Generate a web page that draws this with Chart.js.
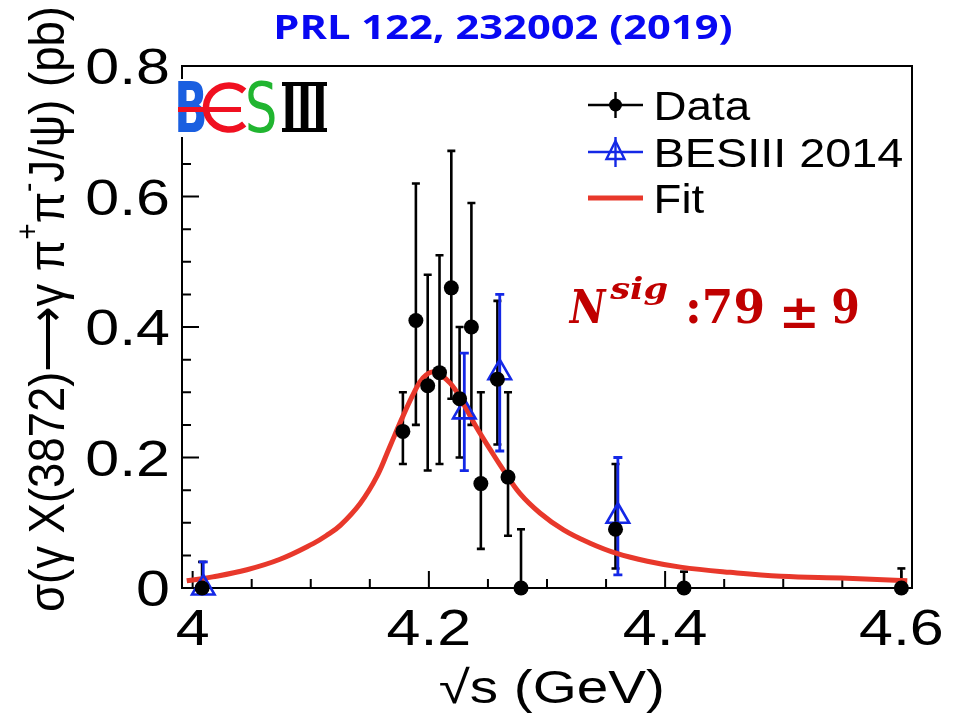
<!DOCTYPE html>
<html>
<head>
<meta charset="utf-8">
<script src="https://cdn.jsdelivr.net/npm/chart.js@4.4.0/dist/chart.umd.min.js"></script>
<style>
  html, body { margin: 0; padding: 0; background: #ffffff; }
  canvas { display: block; }
</style>
</head>
<body>
<canvas id="xsec" width="962" height="718"></canvas>
<script>
// sigma(e+e- -> gamma X(3872)) x B(X(3872) -> pi+ pi- J/psi), in pb, versus sqrt(s) in GeV
const dataX     = [4.008, 4.178, 4.189, 4.199, 4.209, 4.219, 4.226, 4.236, 4.244, 4.258, 4.267, 4.278, 4.358, 4.416, 4.600];
const dataY     = [0.00,  0.24,  0.41,  0.31,  0.33,  0.46,  0.29,  0.40,  0.16,  0.32,  0.17,  0.00,  0.09,  0.00,  0.00];
const dataErrUp = [0.04,  0.06,  0.21,  0.17,  0.18,  0.21,  0.11,  0.19,  0.14,  0.12,  0.13,  0.09,  0.10,  0.025, 0.03];
const dataErrDn = [0.00,  0.05,  0.16,  0.13,  0.14,  0.17,  0.09,  0.15,  0.10,  0.10,  0.09,  0.00,  0.06,  0.00,  0.00];

// earlier BESIII measurement (2014)
const bes14X     = [4.009, 4.230, 4.260, 4.360];
const bes14Y     = [0.00,  0.27,  0.33,  0.11];
const bes14ErrUp = [0.04,  0.09,  0.12,  0.09];
const bes14ErrDn = [0.00,  0.09,  0.12,  0.09];

// fitted line shape
const fitX = [3.995, 4.017, 4.046, 4.074, 4.102, 4.113, 4.125, 4.142, 4.156, 4.167, 4.178, 4.187, 4.195, 4.204,
              4.218, 4.229, 4.240, 4.252, 4.263, 4.277, 4.294, 4.314, 4.336, 4.359, 4.385, 4.413, 4.455,
              4.498, 4.554, 4.605];
const fitY = [0.011, 0.017, 0.028, 0.044, 0.068, 0.080, 0.096, 0.130, 0.171, 0.217, 0.263, 0.298, 0.322, 0.331,
              0.314, 0.283, 0.247, 0.212, 0.181, 0.145, 0.115, 0.089, 0.069, 0.053, 0.041, 0.032, 0.024,
              0.018, 0.015, 0.011];

// axis ticks
const xTickValues = [4.0, 4.2, 4.4, 4.6];
const xTickLabels = ['4', '4.2', '4.4', '4.6'];
const yTickValues = [0, 0.2, 0.4, 0.6, 0.8];
const yTickLabels = ['0', '0.2', '0.4', '0.6', '0.8'];
const minorDivisions = 4;

const SANS = '"Liberation Sans", Arial, Helvetica, sans-serif';
const RED = '#e8382b';
const BLUE = '#1428e6';
const TEXT_STRETCH = 1.22;

function toPts(xs, ys) { return xs.map((v, i) => ({ x: v, y: ys[i] })); }

function drawText(ctx, s, x, y, font, color, align, sx, sy) {
  ctx.save();
  ctx.translate(x, y);
  ctx.scale(sx || 1, sy || 1);
  ctx.font = font;
  ctx.fillStyle = color;
  ctx.textAlign = align || 'left';
  ctx.textBaseline = 'alphabetic';
  ctx.fillText(s, 0, 0);
  ctx.restore();
}

// draws text so that its inked extent runs from x0 to x1
function fitInk(ctx, s, x0, x1, y, font, color, sy) {
  ctx.save();
  ctx.font = font;
  const m = ctx.measureText(s);
  const ink = m.actualBoundingBoxLeft + m.actualBoundingBoxRight;
  const sx = (x1 - x0) / ink;
  ctx.restore();
  drawText(ctx, s, x0 + m.actualBoundingBoxLeft * sx, y, font, color, 'left', sx, sy || 1);
}

function drawErrorBars(ctx, xs, ys, xv, yv, up, dn, color, lw, cap) {
  ctx.save();
  ctx.strokeStyle = color;
  ctx.lineWidth = lw;
  ctx.lineCap = 'butt';
  for (let i = 0; i < xv.length; i++) {
    const px = xs.getPixelForValue(xv[i]);
    const pTop = ys.getPixelForValue(yv[i] + up[i]);
    const pBot = ys.getPixelForValue(yv[i] - dn[i]);
    ctx.beginPath();
    ctx.moveTo(px, pTop); ctx.lineTo(px, pBot);
    ctx.stroke();
    ctx.beginPath();
    if (up[i] > 0) { ctx.moveTo(px - cap, pTop); ctx.lineTo(px + cap, pTop); }
    if (dn[i] > 0) { ctx.moveTo(px - cap, pBot); ctx.lineTo(px + cap, pBot); }
    ctx.stroke();
  }
  ctx.restore();
}

const framePlugin = {
  id: 'frameAndErrors',
  beforeDatasetsDraw(chart) {
    const { ctx, chartArea: a, scales: { x, y } } = chart;
    ctx.save();
    ctx.strokeStyle = '#000';
    ctx.lineWidth = 2;
    ctx.strokeRect(a.left, a.top, a.right - a.left, a.bottom - a.top);

    // x ticks (pointing into the frame)
    const xStep = (xTickValues[1] - xTickValues[0]) / minorDivisions;
    const nx = Math.round((xTickValues[xTickValues.length - 1] - xTickValues[0]) / xStep);
    ctx.beginPath();
    for (let k = 0; k <= nx; k++) {
      const v = xTickValues[0] + k * xStep;
      const px = x.getPixelForValue(v);
      const len = (k % minorDivisions === 0) ? 17 : 9;
      ctx.moveTo(px, a.bottom); ctx.lineTo(px, a.bottom - len);
    }
    // y ticks
    const yStep = (yTickValues[1] - yTickValues[0]) / minorDivisions;
    const ny = Math.round((yTickValues[yTickValues.length - 1] - yTickValues[0]) / yStep);
    for (let k = 0; k <= ny; k++) {
      const v = yTickValues[0] + k * yStep;
      const py = y.getPixelForValue(v);
      const len = (k % minorDivisions === 0) ? 17 : 9;
      ctx.moveTo(a.left, py); ctx.lineTo(a.left + len, py);
    }
    ctx.stroke();
    ctx.restore();

    drawErrorBars(ctx, x, y, dataX, dataY, dataErrUp, dataErrDn, '#000', 2.6, 4);
    drawErrorBars(ctx, x, y, bes14X, bes14Y, bes14ErrUp, bes14ErrDn, BLUE, 2.8, 4.5);
  },
  afterDraw(chart) {
    const { ctx, chartArea: a, scales: { x, y } } = chart;
    const tickFont = '50px ' + SANS;

    // tick labels
    xTickValues.forEach((v, i) => {
      drawText(ctx, xTickLabels[i], x.getPixelForValue(v), 645, tickFont, '#000', 'center', TEXT_STRETCH, 1);
    });
    yTickValues.forEach((v, i) => {
      drawText(ctx, yTickLabels[i], 170, y.getPixelForValue(v) + 18, tickFont, '#000', 'right', TEXT_STRETCH, 1);
    });

    // x title
    fitInk(ctx, '√s (GeV)', 440, 662, 703, '46px ' + SANS, '#000');

    // y title, rotated, with superscript charges
    ctx.save();
    ctx.translate(64, 0);
    ctx.rotate(-Math.PI / 2);
    const F = 42;
    const runs = [
      ['σ(γ X(3872)', 1, 0], ['⟶', 1, 0], ['γ π', 1, 0], ['+', 0.62, -0.52],
      ['π', 1, 0], ['-', 0.62, -0.52], ['J/ψ) (pb)', 1, 0]
    ];
    let total = 0;
    runs.forEach(r => { ctx.font = (F * r[1]) + 'px ' + SANS; total += ctx.measureText(r[0]).width; });
    const lenScale = (612 - 6) / total;
    ctx.translate(-612, 0);
    ctx.scale(lenScale, 1.18);
    ctx.fillStyle = '#000';
    ctx.textBaseline = 'alphabetic';
    let cx = 0;
    runs.forEach(r => {
      ctx.font = (F * r[1]) + 'px ' + SANS;
      ctx.fillText(r[0], cx, r[2] * F);
      cx += ctx.measureText(r[0]).width;
    });
    ctx.restore();

    // legend
    const ds = chart.data.datasets;
    const lx0 = 588, lx1 = 643, lxm = 615.5;
    const rows = [105, 152, 198];
    ctx.save();
    // Data
    ctx.strokeStyle = '#000'; ctx.lineWidth = 2.4;
    ctx.beginPath();
    ctx.moveTo(lx0, rows[0]); ctx.lineTo(lx1, rows[0]);
    ctx.moveTo(lxm, rows[0] - 13); ctx.lineTo(lxm, rows[0] + 13);
    ctx.stroke();
    ctx.fillStyle = '#000';
    ctx.beginPath(); ctx.arc(lxm, rows[0], 6.5, 0, Math.PI * 2); ctx.fill();
    // BESIII 2014
    ctx.strokeStyle = BLUE; ctx.lineWidth = 2.4;
    ctx.beginPath();
    ctx.moveTo(lx0, rows[1]); ctx.lineTo(lx1, rows[1]);
    ctx.moveTo(lxm, rows[1] - 15); ctx.lineTo(lxm, rows[1] + 15);
    ctx.stroke();
    ctx.beginPath();
    ctx.moveTo(lxm, rows[1] - 11); ctx.lineTo(lxm + 9, rows[1] + 7); ctx.lineTo(lxm - 9, rows[1] + 7); ctx.closePath();
    ctx.stroke();
    // Fit
    ctx.strokeStyle = RED; ctx.lineWidth = 5;
    ctx.beginPath(); ctx.moveTo(lx0, rows[2]); ctx.lineTo(lx1, rows[2]); ctx.stroke();
    ctx.restore();
    const legFont = '40px ' + SANS;
    fitInk(ctx, ds[2].label, 657, 751, rows[0] + 14.5, legFont, '#000');
    fitInk(ctx, ds[1].label, 657, 903, rows[1] + 14.5, legFont, '#000');
    fitInk(ctx, ds[0].label, 657, 704, rows[2] + 14.5, legFont, '#000');

    // experiment logo
    ctx.save();
    ctx.fillStyle = '#fff';
    ctx.fillRect(175, 79, 158, 58);
    ctx.restore();
    fitInk(ctx, 'B', 178, 205, 132, 'bold 68px "DejaVu Sans", sans-serif', '#1a5fe0', 50 / (68 * 0.729));
    ctx.save();
    ctx.strokeStyle = '#f01020'; ctx.lineWidth = 6.5;
    ctx.beginPath();
    ctx.ellipse(229, 107.5, 23, 22, 0, Math.PI * 0.27, Math.PI * 1.73);
    ctx.stroke();
    ctx.lineWidth = 5;
    ctx.beginPath(); ctx.moveTo(178, 109.5); ctx.lineTo(241, 109.5); ctx.stroke();
    ctx.restore();
    fitInk(ctx, 'S', 248, 275, 132, '68px "DejaVu Sans", sans-serif', '#21b530', 50 / (68 * 0.729));
    fitInk(ctx, 'III', 285, 324, 129, 'bold 62px "DejaVu Sans", sans-serif', '#000', 44 / (62 * 0.729));
    ctx.save();
    ctx.fillStyle = '#000';
    ctx.fillRect(282, 82, 45, 4);
    ctx.fillRect(282, 128, 45, 4);
    ctx.restore();

    // signal yield
    const dark = '#c00000';
    fitInk(ctx, 'N', 568, 607, 323, 'italic bold 46px "DejaVu Serif", serif', dark);
    fitInk(ctx, 'sig', 609, 667, 299, 'italic bold 30px "DejaVu Serif", serif', dark);
    fitInk(ctx, ':79', 689, 763, 323, 'bold 46px "DejaVu Serif", serif', dark);
    fitInk(ctx, '±', 783, 815, 328, 'bold 46px "DejaVu Serif", serif', dark);
    fitInk(ctx, '9', 833, 858, 323, 'bold 46px "DejaVu Serif", serif', dark);

    // reference
    fitInk(ctx, 'PRL 122, 232002 (2019)', 277, 732, 39, 'bold 34px "Open Sans", Lato, sans-serif', '#0808f2');
  }
};

new Chart(document.getElementById('xsec'), {
  type: 'scatter',
  data: {
    datasets: [
      {
        label: 'Fit',
        data: toPts(fitX, fitY),
        showLine: true,
        borderColor: RED,
        borderWidth: 5,
        pointRadius: 0,
        tension: 0.4,
        order: 3,
        clip: false
      },
      {
        label: 'BESIII 2014',
        data: toPts(bes14X, bes14Y),
        showLine: false,
        pointStyle: 'triangle',
        pointRadius: 13,
        borderColor: BLUE,
        borderWidth: 2.6,
        backgroundColor: 'rgba(0,0,0,0)',
        order: 2,
        clip: false
      },
      {
        label: 'Data',
        data: toPts(dataX, dataY),
        showLine: false,
        pointStyle: 'circle',
        pointRadius: 7.5,
        borderWidth: 0,
        backgroundColor: '#000',
        borderColor: '#000',
        order: 1,
        clip: false
      }
    ]
  },
  options: {
    responsive: false,
    animation: false,
    events: [],
    layout: { padding: { left: 182, right: 50, top: 66, bottom: 130 } },
    scales: {
      x: { type: 'linear', min: 3.991, max: 4.609, display: false },
      y: { type: 'linear', min: 0, max: 0.8, display: false }
    },
    plugins: { legend: { display: false }, tooltip: { enabled: false } }
  },
  plugins: [framePlugin]
});
</script>
</body>
</html>
